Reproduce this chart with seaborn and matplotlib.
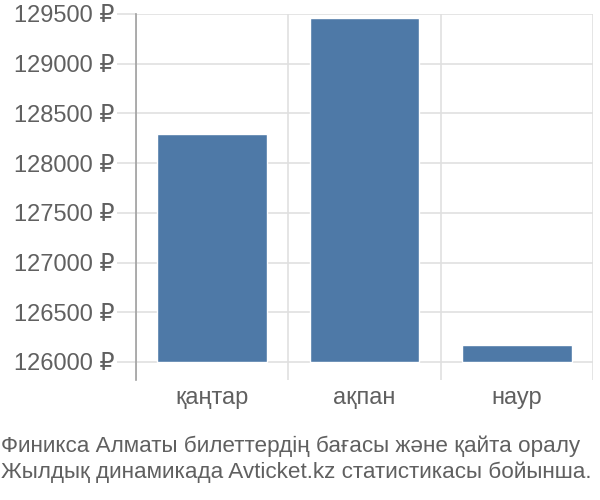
import matplotlib
matplotlib.use("Agg")
import matplotlib.pyplot as plt
import seaborn as sns
import pandas as pd
from matplotlib.ticker import FuncFormatter, FixedLocator

categories = ["қаңтар", "ақпан", "наур"]
prices = [128290, 129455, 126170]
base_price = 126000
y_ticks = [126000, 126500, 127000, 127500, 128000, 128500, 129000, 129500]
caption_lines = [
    "Финикса Алматы билеттердің бағасы және қайта оралу",
    "Жылдық динамикада Avticket.kz статистикасы бойынша.",
]

sns.set_theme(style="white")
plt.rcParams['font.family'] = ['Liberation Sans', 'DejaVu Sans']

text_color = "#606060"
grid_color = "#e0e0e0"

fig = plt.figure(figsize=(6, 5), dpi=100)
ax = fig.add_axes([136 / 600, 1 - 380 / 500, (593 - 136) / 600, (380 - 14) / 500])

df = pd.DataFrame({"month": categories, "height": [p - base_price for p in prices]})
sns.barplot(data=df, x="month", y="height", bottom=base_price, color="#4e79a7",
            width=0.72, saturation=1, errorbar=None, ax=ax, zorder=3)

ax.set_xlim(-0.5, 2.5)
ax.set_ylim(125818, 129500)
ax.yaxis.set_major_locator(FixedLocator(y_ticks))
ax.yaxis.set_major_formatter(FuncFormatter(lambda v, p: f"{v:.0f} ₽"))
ax.xaxis.set_minor_locator(FixedLocator([-0.5, 0.5, 1.5, 2.5]))

ax.grid(False)
ax.yaxis.grid(True, which="major", color=grid_color, linewidth=1.2, zorder=0)
ax.xaxis.grid(True, which="minor", color=grid_color, linewidth=1.2, zorder=0)
ax.set_axisbelow(True)

for s in ["top", "right", "bottom"]:
    ax.spines[s].set_visible(False)
ax.spines["left"].set_color("#a0a0a0")
ax.spines["left"].set_linewidth(1.2)

ax.tick_params(axis="y", which="major", length=13.7, width=1.2, color=grid_color,
               pad=2, labelsize=17, labelcolor=text_color, left=True)
ax.tick_params(axis="x", which="major", length=0, pad=5, labelsize=17, labelcolor=text_color)
ax.tick_params(axis="x", which="minor", length=0)
ax.set_xlabel("")
ax.set_ylabel("")

fig.text(0.002, 1 - 446 / 500, caption_lines[0], va="center", ha="left",
         fontsize=16.2, color=text_color)
fig.text(0.002, 1 - 472 / 500, caption_lines[1], va="center", ha="left",
         fontsize=16.2, color=text_color)

fig.savefig("out.png", dpi=100)
